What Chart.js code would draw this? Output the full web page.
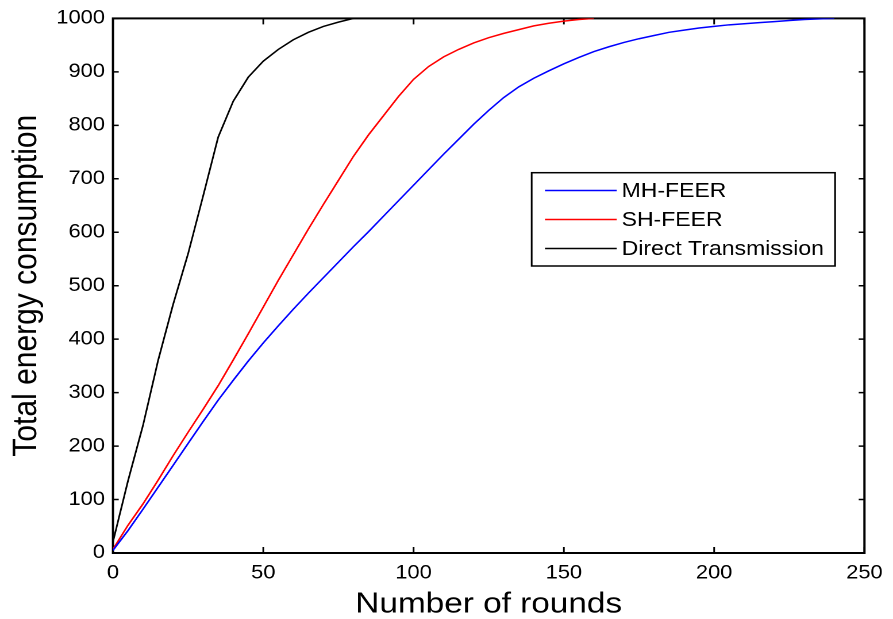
<!DOCTYPE html>
<html>
<head>
<meta charset="utf-8">
<script src="https://cdn.jsdelivr.net/npm/chart.js@4.4.0/dist/chart.umd.min.js"></script>
<style>
html, body { margin:0; padding:0; background:#fff; overflow:hidden; }
/* the reference is a bit wider than tall in its glyphs, so draw narrower and stretch */
#wrap { width:777px; height:619px; transform:scaleX(1.1493); transform-origin:0 0; }
</style>
</head>
<body>
<div id="wrap"><canvas id="c"></canvas></div>
<script>
// rounds (x) at step 5
const rounds = [0,5,10,15,20,25,30,35,40,45,50,55,60,65,70,75,80,85,90,95,100,
  105,110,115,120,125,130,135,140,145,150,155,160,165,170,175,180,185,190,195,200,
  205,210,215,220,225,230,235,240,245,250];

// total energy consumption
const mhFeer = [5,42,82,123,164,205,246,286,323,359,393,425,456,486,515,544,573,601,630,659,
  688,717,746,774,802,828,852,872,888,902,915,927,938,947,955,962,968,974,978,982,
  985,988,990,992,994,996,998,999,1000];
const shFeer = [7,52,92,136,182,226,269,313,361,410,460,510,558,606,652,697,742,782,818,854,
  886,910,928,942,954,964,972,979,986,991,995,998,1000];
const direct = [21,135,239,360,465,560,668,778,845,890,920,942,960,974,985,993,1000];

const seriesNames = ['MH-FEER', 'SH-FEER', 'Direct Transmission'];
const xTicks = [0,50,100,150,200,250];
const yTicks = [0,100,200,300,400,500,600,700,800,900,1000];

function pts(vals){
  return vals.map((v,i)=>({x: rounds[i], y: v}))
}

const fontName = '"Liberation Sans", Arial, sans-serif';

// box + inward ticks on all four sides
const frame = {
  id: 'frame',
  beforeDatasetsDraw(chart){
    const {ctx, chartArea: a, scales: {x, y}} = chart;
    ctx.save();
    ctx.strokeStyle = '#000';
    ctx.lineWidth = 2;
    ctx.strokeRect(a.left, a.top, a.right - a.left, a.bottom - a.top);
    ctx.lineWidth = 1.5;
    ctx.beginPath();
    x.ticks.forEach(t=>{
      const px = x.getPixelForValue(t.value);
      ctx.moveTo(px, a.bottom); ctx.lineTo(px, a.bottom - 6);
      ctx.moveTo(px, a.top); ctx.lineTo(px, a.top + 6);
    });
    y.ticks.forEach(t=>{
      const py = y.getPixelForValue(t.value);
      ctx.moveTo(a.left, py); ctx.lineTo(a.left + 5, py);
      ctx.moveTo(a.right, py); ctx.lineTo(a.right - 5, py);
    });
    ctx.stroke();
    ctx.restore();
  }
};

// legend box inside the plot, like matlab's
const legendBox = {
  id: 'legendBox',
  afterDatasetsDraw(chart){
    const ctx = chart.ctx;
    const bx = 462.6, by = 172.7, bw = 264, bh = 93.3;
    const rows = [190.5, 219.5, 248.5];
    ctx.save();
    ctx.fillStyle = '#fff';
    ctx.fillRect(bx, by, bw, bh);
    ctx.strokeStyle = '#000';
    ctx.lineWidth = 1.5;
    ctx.strokeRect(bx, by, bw, bh);
    ctx.font = '20px ' + fontName;
    ctx.textBaseline = 'middle';
    chart.data.datasets.forEach((ds, i)=>{
      ctx.strokeStyle = ds.borderColor;
      ctx.lineWidth = 1.5;
      ctx.beginPath();
      ctx.moveTo(474.2, rows[i]); ctx.lineTo(536.6, rows[i]);
      ctx.stroke();
      ctx.fillStyle = '#000';
      ctx.fillText(ds.label, 540.9, rows[i] + 1);
    });
    ctx.restore();
  }
};

new Chart(document.getElementById('c'), {
  type: 'line',
  data: {
    datasets: [
      { label: seriesNames[0], data: pts(mhFeer), borderColor: '#0000ff', borderWidth: 1.5, pointRadius: 0, tension: 0 },
      { label: seriesNames[1], data: pts(shFeer), borderColor: '#ff0000', borderWidth: 1.5, pointRadius: 0, tension: 0 },
      { label: seriesNames[2], data: pts(direct), borderColor: '#000000', borderWidth: 1.5, pointRadius: 0, tension: 0 }
    ]
  },
  options: {
    responsive: true,
    maintainAspectRatio: false,
    animation: false,
    devicePixelRatio: 2,
    layout: { padding: { top: 18, right: 17.4, left: 0, bottom: 0 } },
    plugins: { legend: { display: false }, tooltip: { enabled: false } },
    scales: {
      x: {
        type: 'linear', min: 0, max: 250,
        afterBuildTicks(s){ s.ticks = xTicks.map(v=>({value: v})) },
        afterFit(s){ s.height = 66 },
        grid: { display: false, drawTicks: false },
        border: { display: false },
        ticks: { color: '#000', font: { family: fontName, size: 19 }, padding: 9, maxRotation: 0,
          callback: v => String(v) },
        title: { display: true, text: 'Number of rounds', color: '#000',
          font: { family: fontName, size: 29, lineHeight: 1 }, padding: { top: 0, bottom: 0 } }
      },
      y: {
        min: 0, max: 1000,
        afterBuildTicks(s){ s.ticks = yTicks.map(v=>({value: v})) },
        afterFit(s){ s.width = 98.3 },
        grid: { display: false, drawTicks: false },
        border: { display: false },
        ticks: { color: '#000', font: { family: fontName, size: 19 }, padding: 7,
          callback: v => String(v) },
        title: { display: true, text: 'Total energy consumption', color: '#000',
          font: { family: fontName, size: 30 }, padding: { top: 5, bottom: 0 } }
      }
    }
  },
  plugins: [frame, legendBox]
});
</script>
</body>
</html>
